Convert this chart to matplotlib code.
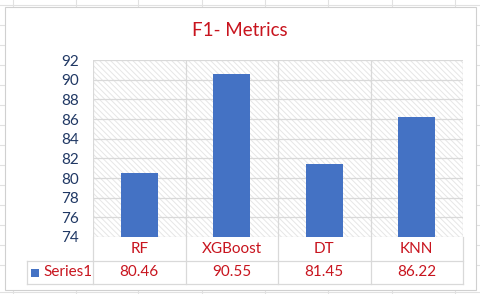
import matplotlib.pyplot as plt
from matplotlib.patches import Rectangle
from matplotlib.lines import Line2D
import matplotlib.transforms as mtransforms
import numpy as np

# data
models = ["RF", "XGBoost", "DT", "KNN"]
f1 = [80.46, 90.55, 81.45, 86.22]
series_name = "Series1"
yticks = [74, 76, 78, 80, 82, 84, 86, 88, 90, 92]

bar_col = "#4472C4"
red = "#C8141E"
navy = "#203864"
grid = "#D9D9D9"

plt.rcParams['font.family'] = ['Lato', 'DejaVu Sans']
plt.rcParams['hatch.linewidth'] = 0.7

W, H = 480, 294
fig = plt.figure(figsize=(4.8, 2.94), dpi=100)

def fx(x): return x / W
def fy(y): return 1 - y / H

# spreadsheet grid behind the chart
for x in [13, 76, 138, 202, 265, 328, 392, 455]:
    fig.add_artist(Line2D([fx(x), fx(x)], [0, 1], color="#E1E1E1", lw=0.8, zorder=0))
for y in [5, 25, 45, 65, 85, 105, 125, 145, 165, 185, 205, 225, 245, 265, 292]:
    fig.add_artist(Line2D([0, 1], [fy(y), fy(y)], color="#E1E1E1", lw=0.8, zorder=0))

# chart area
fig.add_artist(Rectangle((fx(5), fy(290)), fx(471), 283 / H, facecolor="white",
                         edgecolor="#D0D0D0", lw=0.8, zorder=1))

left, right, top, bottom = 93, 463, 60, 237
ax = fig.add_axes([fx(left), fy(bottom), fx(right - left), (bottom - top) / H], zorder=2)
ax.patch.set_facecolor("white")

x = np.arange(len(models))
ax.set_xlim(-0.5, len(models) - 0.5)
ax.set_ylim(74, 92)

# hatched plot area
ax.add_patch(Rectangle((0, 0), 1, 1, transform=ax.transAxes, facecolor="white",
                       edgecolor="#E6E6E6", hatch="\\\\\\\\\\\\", lw=0, zorder=0))
for yv in yticks:
    ax.axhline(yv, color=grid, lw=0.9, zorder=1)
for xv in np.arange(-0.5, len(models), 1.0):
    ax.axvline(xv, color=grid, lw=0.9, zorder=1)

ax.bar(x, f1, width=0.4, color=bar_col, zorder=2)

for s in ax.spines.values():
    s.set_visible(False)
ax.set_yticks(yticks)
ax.tick_params(axis="y", length=0, pad=10, labelsize=11, labelcolor=navy)
ax.set_xticks([])

fig.text(0.5, fy(30), "F1- Metrics", ha="center", va="center", fontsize=13.5, color=red)

# data table below the plot
tr = mtransforms.blended_transform_factory(ax.transData, fig.transFigure)
row1, row2, row3 = 237, 261, 284
for xv in np.arange(-0.5, len(models), 1.0):
    ax.add_line(Line2D([xv, xv], [fy(row1), fy(row3)], transform=tr, color=grid,
                       lw=0.9, clip_on=False))
for yv in [row2, row3]:
    fig.add_artist(Line2D([fx(27), fx(right)], [fy(yv), fy(yv)], color=grid, lw=0.9, zorder=3))
fig.add_artist(Line2D([fx(27), fx(27)], [fy(row2), fy(row3)], color=grid, lw=0.9, zorder=3))

for xi, name, v in zip(x, models, f1):
    fig.text(0, fy((row1 + row2) / 2), name, transform=tr, ha="center", va="center",
             fontsize=11, color=red, zorder=4).set_x(xi)
    fig.text(0, fy((row2 + row3) / 2), f"{v:.2f}", transform=tr, ha="center", va="center",
             fontsize=11, color=red, zorder=4).set_x(xi)

fig.add_artist(Rectangle((fx(31), fy(277)), fx(8), 8 / H, facecolor=bar_col, lw=0, zorder=4))
fig.text(fx(43), fy((row2 + row3) / 2), series_name, ha="left", va="center",
         fontsize=11, color=red, zorder=4)

fig.savefig("out.png", dpi=100)
